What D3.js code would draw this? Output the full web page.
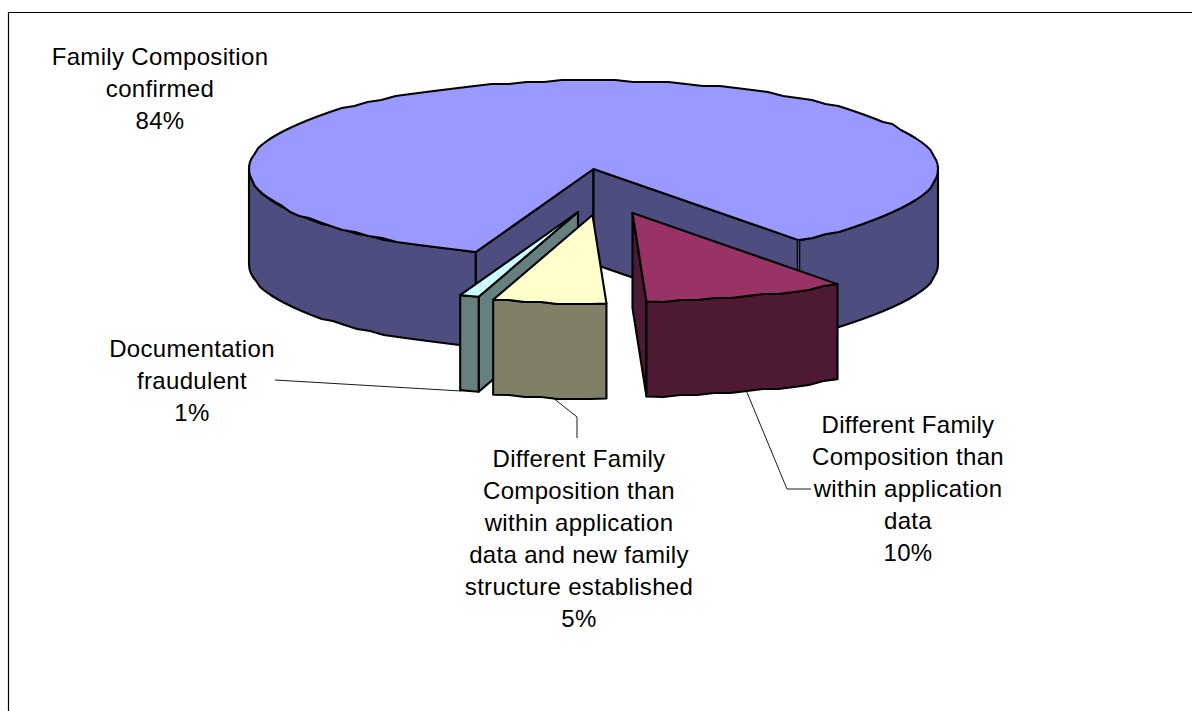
<!DOCTYPE html>
<html><head><meta charset="utf-8">
<script src="https://cdnjs.cloudflare.com/ajax/libs/d3/7.8.5/d3.min.js"></script>
<style>html,body{margin:0;padding:0;background:#fff}svg{display:block}
text{font-family:"Liberation Sans",Arial,sans-serif;font-size:24px;letter-spacing:0.33px;fill:#000;text-anchor:middle}</style>
</head><body><script>
const categories = ["Family Composition confirmed","Different Family Composition than within application data","Different Family Composition than within application data and new family structure established","Documentation fraudulent"];
const values = [84.3,9.5,5.3,0.9];
const topColors = ["#9999ff","#993366","#ffffcc","#ccffff"];
const sideColors = ["#4d4d80","#4d1933","#808066","#668080"];
const labelLines = [
  ["Family Composition","confirmed","84%"],
  ["Different Family","Composition than","within application","data","10%"],
  ["Different Family","Composition than","within application","data and new family","structure established","5%"],
  ["Documentation","fraudulent","1%"]];

// layout
const W=1192,H=711,cx=593.5,cy=169,rx=344.5,ry=88.5,depth=95;
const explode=[[0,0],[39,44],[-1,46],[-15.5,43]];
const labelPos=[[160,57],[908,425],[579,459],[192,349]];
const leaders=[null,[[746,390],[787,489],[811,489]],[[552,397],[577,417],[577,438]],[[275,380],[461,391]]];
const drawOrder=[0,3,1,2];

const x=d3.scaleLinear().domain([-1,1]).range([cx-rx,cx+rx]);
const y=d3.scaleLinear().domain([1,-1]).range([cy-ry,cy+ry]);
const arcs=d3.pie().sort(null).startAngle(200*Math.PI/180).endAngle((200+360)*Math.PI/180)(values);

const svg=d3.select("body").append("svg").attr("width",W).attr("height",H);
svg.append("rect").attr("width",W).attr("height",H).attr("fill","#fff");
svg.append("path").attr("d",`M8.5 ${H+2}V12.5H${W+2}`).attr("fill","none").attr("stroke","#000").attr("stroke-width",1.2);

const q=2; // rim is drawn as a polyline on a pixel lattice, like the source's faceted edge
const snap=v=>Math.round(v/q)*q;
function rim(a0,a1,ox,oy,dz){
  const n=Math.max(2,Math.ceil(Math.abs(a1-a0)/(3*Math.PI/180))),pts=[];
  for(let i=0;i<=n;i++){
    const a=a0+(a1-a0)*i/n,end=i===0||i===n;
    const px=x(Math.sin(a))+ox,py=y(Math.cos(a))+oy;
    pts.push(end?[px,py+dz]:[px,snap(py)+dz]);
  }
  return pts;
}
const line=d3.line();
const poly=(g,pts,fill)=>g.append("path").attr("d",line(pts)+"Z").attr("fill",fill).attr("stroke","#000")
  .attr("stroke-width",2.1).attr("stroke-linejoin","round");
const P=(a,ox,oy,dz)=>[x(Math.sin(a))+ox,y(Math.cos(a))+oy+dz];

drawOrder.forEach(i=>{
  const d=arcs[i],g=svg.append("g"),[ox,oy]=explode[i],a0=d.startAngle,a1=d.endAngle;
  const apex=[x(0)+ox,y(0)+oy],apexB=[apex[0],apex[1]+depth];
  const wall=a=>poly(g,[apex,P(a,ox,oy,0),P(a,ox,oy,depth),apexB],sideColors[i]);
  if(Math.sin(a0)<0) wall(a0);   // start cut faces the viewer
  if(Math.sin(a1)>0) wall(a1);   // end cut faces the viewer
  // outer wall: the part of the rim on the near side
  for(let k=-1;k<=1;k++){
    const lo=Math.max(a0,Math.PI/2+k*2*Math.PI),hi=Math.min(a1,3*Math.PI/2+k*2*Math.PI);
    if(hi>lo) poly(g,rim(lo,hi,ox,oy,0).concat(rim(hi,lo,ox,oy,depth)),sideColors[i]);
  }
  poly(g,[apex].concat(rim(a0,a1,ox,oy,0)),topColors[i]);
  if(i===0){ // double seam where the cut wall meets the outer wall
    const s=[P(a1,ox,oy,1),P(a1,ox,oy,depth)];
    g.append("path").attr("d",line(s)).attr("stroke","#000").attr("stroke-width",3.6);
    g.append("path").attr("d",line(s)).attr("stroke",sideColors[i]).attr("stroke-width",1.2);
  }
});

leaders.forEach(l=>{ if(l) svg.append("path").attr("d",d3.line()(l)).attr("fill","none").attr("stroke","#000").attr("stroke-width",0.9); });

labelLines.forEach((ls,i)=>{
  const t=svg.append("text").attr("aria-label",categories[i]);
  ls.forEach((s,j)=>t.append("tspan").attr("x",labelPos[i][0]).attr("y",labelPos[i][1]+j*31.9+8).text(s));
});
</script></body></html>
